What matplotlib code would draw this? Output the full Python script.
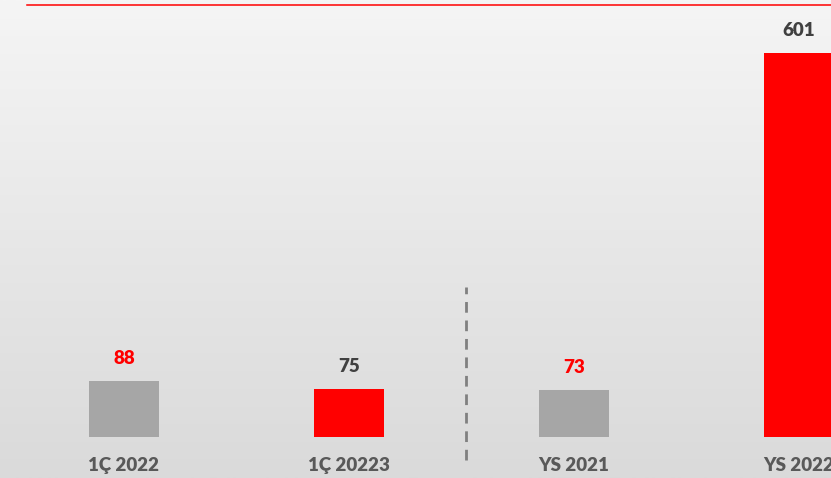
import numpy as np
import matplotlib.pyplot as plt
from matplotlib.lines import Line2D
from matplotlib.colors import LinearSegmentedColormap

categories = ["1Ç 2022", "1Ç 20223", "YS 2021", "YS 2022"]
values = [88, 75, 73, 601]
bar_colors = ["#a6a6a6", "#ff0000", "#a6a6a6", "#ff0000"]
label_colors = ["#ff0000", "#404040", "#ff0000", "#404040"]


def main():
    plt.rcParams['font.family'] = ['Lato', 'DejaVu Sans']
    fig = plt.figure(figsize=(8.31, 4.78), dpi=100)
    ax = fig.add_axes([0, 0, 1, 1])

    x = np.arange(len(categories))
    xlim = (-0.551, -0.551 + 831 / 225)
    ylim = (-64.2, 684)
    ax.set_xlim(*xlim)
    ax.set_ylim(*ylim)

    # background gradient, light at top, darker at bottom
    cmap = LinearSegmentedColormap.from_list("bg", ["#dadada", "#f5f5f5"])
    grad = np.linspace(0, 1, 256).reshape(-1, 1)
    ax.imshow(grad, extent=[xlim[0], xlim[1], ylim[0], ylim[1]], origin="lower",
              aspect="auto", cmap=cmap, zorder=0)

    ax.bar(x, values, width=0.311, color=bar_colors, zorder=2)

    for xi, v, c, name in zip(x, values, label_colors, categories):
        ax.annotate(str(v), (xi, v), xytext=(0, 10), textcoords="offset points",
                    ha="center", va="bottom", fontsize=13.5, fontweight="heavy", color=c)
        ax.text(xi, -45, name, ha="center", va="center",
                fontsize=13.5, fontweight="heavy", color="#595959")

    # dashed separator between quarterly and yearly
    ax.plot([1.518, 1.518], [-36, 235], color="#808080", lw=2,
            linestyle=(0, (3.85, 2.8)), zorder=1)

    # red line across the top
    fig.add_artist(Line2D([27 / 831, 1], [1 - 4.5 / 478] * 2, color="#ff0000",
                          lw=1.1, transform=fig.transFigure))

    ax.axis("off")
    fig.savefig("out.png", dpi=100)


if __name__ == '__main__':
    main()
